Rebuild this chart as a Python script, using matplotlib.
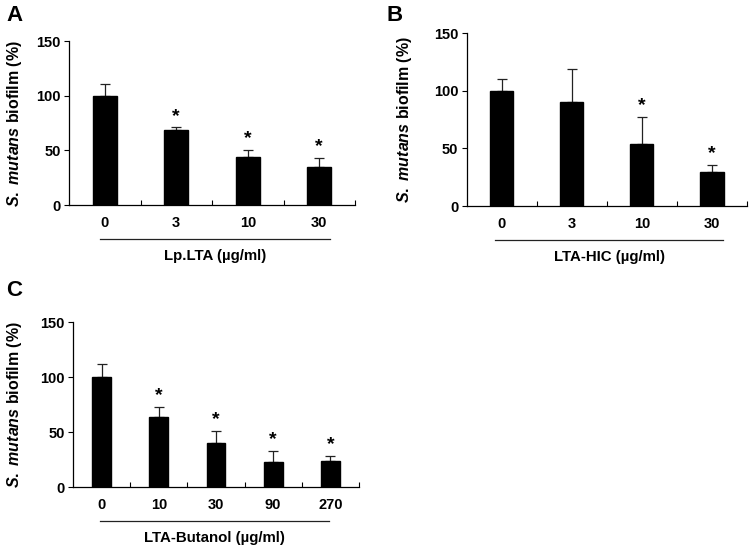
#!/usr/bin/env python3

import matplotlib
matplotlib.use('Agg')
import matplotlib.pyplot as plt
import matplotlib.transforms as mtransforms

plt.rcParams['font.family'] = ['Liberation Sans', 'DejaVu Sans']
plt.rcParams['font.weight'] = 'bold'
plt.rcParams['mathtext.fontset'] = 'custom'
plt.rcParams['mathtext.it'] = 'Liberation Sans:italic:bold'
plt.rcParams['mathtext.rm'] = 'Liberation Sans:bold'

# panel A: Lp.LTA
doses_a = ['0', '3', '10', '30']
biofilm_a = [100, 68.5, 44, 35]
sd_a = [10.5, 2.5, 6.3, 7.7]
sig_a = [False, True, True, True]

# panel B: LTA-HIC
doses_b = ['0', '3', '10', '30']
biofilm_b = [100, 89.8, 53.5, 29.7]
sd_b = [9.8, 28.7, 23.5, 5.8]
sig_b = [False, False, True, True]

# panel C: LTA-Butanol
doses_c = ['0', '10', '30', '90', '270']
biofilm_c = [100, 64, 40, 23, 24]
sd_c = [12, 9.3, 11.2, 10.3, 4.5]
sig_c = [False, True, True, True, True]

YLABEL = r'$\mathit{S.\ mutans}$ biofilm (%)'


def px_offset(fig, ax, dy_px):
    # x in data coords, y in axes coords shifted down by dy_px pixels
    base = mtransforms.blended_transform_factory(ax.transData, ax.transAxes)
    return base + mtransforms.ScaledTranslation(0, -dy_px / fig.dpi,
                                                fig.dpi_scale_trans)


def plot_panel(fig, rect, letter, letter_xy, doses, vals, sd, sig,
               xlabel, line_span, ylab_x):
    ax = fig.add_axes(rect)
    n = len(doses)
    xs = list(range(n))

    ax.bar(xs, vals, width=0.33, color='black', edgecolor='black',
           zorder=2)
    ax.errorbar(xs, vals, yerr=[[0] * n, sd], fmt='none', ecolor='#222222',
                elinewidth=0.9, capsize=3.5, capthick=0.9, zorder=1)

    for x, v, e, s in zip(xs, vals, sd, sig):
        if s:
            ax.annotate('*', (x, v + e), xytext=(0, 2),
                        textcoords='offset points', ha='center',
                        va='bottom', fontsize=14, fontweight='bold')

    ax.set_xlim(-0.5, n - 0.5)
    ax.set_ylim(0, 150)
    ax.set_yticks([0, 50, 100, 150])
    ax.set_xticks(xs)
    ax.set_xticklabels(doses)
    ax.set_xticks([i + 0.5 for i in range(n)], minor=True)
    ax.tick_params(axis='x', which='major', length=0, pad=8, labelsize=10.5)
    ax.tick_params(axis='x', which='minor', direction='in', length=3.5,
                   width=0.8)
    ax.tick_params(axis='y', direction='out', length=3.5, width=0.8,
                   pad=2.5, labelsize=10.5)

    for side in ['top', 'right']:
        ax.spines[side].set_visible(False)
    for side in ['left', 'bottom']:
        ax.spines[side].set_linewidth(0.9)

    ax.text(ylab_x, 0.5, YLABEL, transform=ax.transAxes, rotation=90,
            ha='center', va='center', fontsize=11.5, fontweight='bold')

    # bracket line under the dose labels
    ax.plot(line_span, [0, 0], color='#222222', lw=0.9, clip_on=False,
            transform=px_offset(fig, ax, 34))
    ax.text((line_span[0] + line_span[1]) / 2, 0, xlabel,
            transform=px_offset(fig, ax, 51), ha='center', va='center',
            fontsize=10.8, fontweight='bold')

    fig.text(letter_xy[0], letter_xy[1], letter, fontsize=16,
             fontweight='bold', ha='left', va='top')
    return ax


def main():
    fig = plt.figure(figsize=(7.51, 5.46), dpi=100)

    plot_panel(fig, [0.0919, 0.6245, 0.3808, 0.3004], 'A', (0.008, 0.99),
               doses_a, biofilm_a, sd_a, sig_a, 'Lp.LTA (\u00b5g/ml)',
               (-0.06, 3.15), -0.19)
    plot_panel(fig, [0.6212, 0.6227, 0.3735, 0.3168], 'B', (0.515, 0.99),
               doses_b, biofilm_b, sd_b, sig_b, 'LTA-HIC (\u00b5g/ml)',
               (-0.09, 3.16), -0.22)
    plot_panel(fig, [0.0972, 0.1075, 0.3808, 0.3022], 'C', (0.008, 0.487),
               doses_c, biofilm_c, sd_c, sig_c, 'LTA-Butanol (\u00b5g/ml)',
               (-0.02, 3.98), -0.205)

    fig.savefig('out.png', dpi=100)


if __name__ == '__main__':
    main()
